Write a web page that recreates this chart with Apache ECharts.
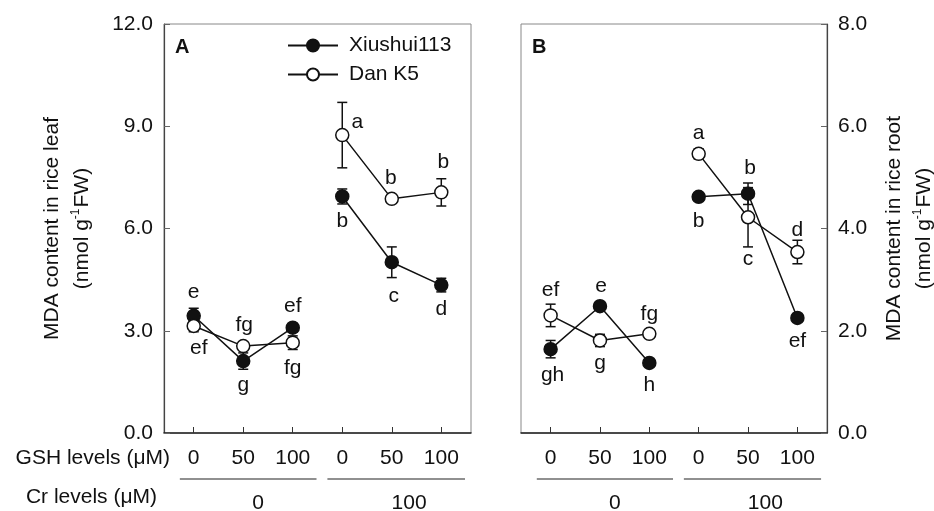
<!DOCTYPE html>
<html>
<head>
<meta charset="utf-8">
<script src="https://cdn.jsdelivr.net/npm/echarts@6/dist/echarts.min.js"></script>
<style>
    html, body { margin: 0; padding: 0; background: #fff; }
    #main { width: 934px; height: 511px; }
</style>
</head>
<body>
<div id="main"></div>
<script>
// 数据
var gshLevels = ["0", "50", "100", "0", "50", "100"];
var crLevels = ["0", "100"];
var xPos = [1, 2, 3, 4, 5, 6];

// 叶片 MDA (nmol g-1 FW)
var leafXiushui = [3.44, 2.11, 3.09, 6.94, 5.01, 4.34];
var leafXiushuiErr = [0.22, 0.24, 0.12, 0.22, 0.45, 0.2];
var leafDan = [3.14, 2.55, 2.65, 8.74, 6.87, 7.06];
var leafDanErr = [0.17, 0.05, 0.2, 0.96, 0.05, 0.4];
// 根 MDA
var rootXiushui = [1.64, 2.48, 1.37, 4.62, 4.68, 2.25];
var rootXiushuiErr = [0.17, 0.05, 0.05, 0.05, 0.21, 0.05];
var rootDan = [2.30, 1.81, 1.94, 5.46, 4.22, 3.54];
var rootDanErr = [0.22, 0.12, 0.05, 0.1, 0.58, 0.23];

// 显著性字母
var leafXiushuiSig = ["e", "g", "ef", "b", "c", "d"];
var leafDanSig = ["ef", "fg", "fg", "a", "b", "b"];
var rootXiushuiSig = ["gh", "e", "h", "b", "b", "ef"];
var rootDanSig = ["ef", "g", "fg", "a", "c", "d"];

(function() {
    var FONT = "Liberation Sans, Arial, sans-serif";
    var INK = "#111";

    // 字母相对于点的偏移 (px)
    var leafXiushuiOff = [[0, -24], [0, 24], [0, -21], [0, 25], [2, 34], [0, 24]];
    var leafDanOff = [[5, 22], [1, -21], [0, 26], [15, -13], [-1, -21], [2, -30]];
    var rootXiushuiOff = [[2, 26], [1, -20], [0, 22], [0, 24], [2, -26], [0, 23]];
    var rootDanOff = [[0, -25], [0, 23], [0, -20], [0, -21], [0, 42], [0, -22]];

    var myChart = echarts.init(document.getElementById("main"));

    // 折线：每个 Cr 水平一段，中间断开
    function lineSeries(name, vals, sig, off, idx, filled) {
        var out = [];
        [[0, 3], [3, 6]].forEach(function(r) {
            var data = [];
            for (var i = r[0]; i < r[1]; i++) {
                data.push({
                    value: [xPos[i], vals[i]],
                    label: {
                        show: true,
                        position: "inside",
                        offset: off[i],
                        formatter: sig[i],
                        fontSize: 21,
                        fontFamily: FONT,
                        color: INK
                    }
                });
            }
            out.push({
                name: name,
                type: "line",
                xAxisIndex: idx,
                yAxisIndex: idx,
                data: data,
                symbol: "circle",
                symbolSize: 13,
                z: 3,
                lineStyle: { color: INK, width: 1.5 },
                itemStyle: {
                    color: filled ? INK : "#fff",
                    borderColor: INK,
                    borderWidth: 1.5
                },
                emphasis: { disabled: true },
                animation: false
            });
        });
        return out;
    }

    // 误差棒
    function errSeries(vals, err, idx) {
        return {
            type: "custom",
            name: "err" + idx,
            xAxisIndex: idx,
            yAxisIndex: idx,
            z: 1,
            silent: true,
            animation: false,
            encode: { x: 0, y: [1, 2] },
            data: vals.map(function(v, i) {
                return [xPos[i], v - err[i], v + err[i]];
            }),
            renderItem: function(params, api) {
                var lo = api.coord([api.value(0), api.value(1)]);
                var hi = api.coord([api.value(0), api.value(2)]);
                var w = 5;
                var st = { stroke: INK, lineWidth: 1.5 };
                return {
                    type: "group",
                    children: [
                        { type: "line", shape: { x1: lo[0], y1: lo[1], x2: hi[0], y2: hi[1] }, style: st },
                        { type: "line", shape: { x1: lo[0] - w, y1: lo[1], x2: lo[0] + w, y2: lo[1] }, style: st },
                        { type: "line", shape: { x1: hi[0] - w, y1: hi[1], x2: hi[0] + w, y2: hi[1] }, style: st }
                    ]
                };
            }
        };
    }

    function xAxis(idx) {
        return {
            type: "value",
            gridIndex: idx,
            min: 0.4,
            max: 6.6,
            axisLine: { lineStyle: { color: "#222", width: 1.5 } },
            axisTick: {
                inside: true,
                length: 6,
                customValues: xPos,
                lineStyle: { color: "#333" }
            },
            axisLabel: {
                customValues: xPos,
                margin: 15,
                fontSize: 21,
                fontFamily: FONT,
                color: INK,
                formatter: function(v) {
                    return gshLevels[Math.round(v) - 1];
                }
            },
            splitLine: { show: false }
        };
    }

    var nameRich = {
        t: { fontSize: 21, fontFamily: FONT, color: INK, lineHeight: 30 },
        s: { fontSize: 12, fontFamily: FONT, color: INK, padding: [0, 1, 12, 0] }
    };

    function yAxis(idx, max, step, pos, nameTxt, gap) {
        return {
            type: "value",
            gridIndex: idx,
            position: pos,
            min: 0,
            max: max,
            interval: step,
            name: "{t|" + nameTxt + "}\n{t|(nmol g}{s|-1}{t|FW)}",
            nameLocation: "middle",
            nameRotate: 90,
            nameGap: gap,
            nameTextStyle: { rich: nameRich },
            axisLine: { show: true, lineStyle: { color: "#444", width: 1.2 } },
            axisTick: { inside: true, length: 6, lineStyle: { color: "#666" } },
            axisLabel: {
                margin: 11,
                fontSize: 21,
                fontFamily: FONT,
                color: INK,
                formatter: function(v) { return v.toFixed(1); }
            },
            splitLine: { show: false }
        };
    }

    var series = []
        .concat(lineSeries("Xiushui113", leafXiushui, leafXiushuiSig, leafXiushuiOff, 0, true))
        .concat(lineSeries("Dan K5", leafDan, leafDanSig, leafDanOff, 0, false))
        .concat(lineSeries("Xiushui113", rootXiushui, rootXiushuiSig, rootXiushuiOff, 1, true))
        .concat(lineSeries("Dan K5", rootDan, rootDanSig, rootDanOff, 1, false));
    series.push(errSeries(leafXiushui, leafXiushuiErr, 0));
    series.push(errSeries(leafDan, leafDanErr, 0));
    series.push(errSeries(rootXiushui, rootXiushuiErr, 1));
    series.push(errSeries(rootDan, rootDanErr, 1));

    var option = {
        animation: false,
        title: [
            { text: "A", left: 175, top: 37, padding: 0, textStyle: { fontSize: 20, fontWeight: "bold", fontFamily: FONT, color: INK } },
            { text: "B", left: 532, top: 37, padding: 0, textStyle: { fontSize: 20, fontWeight: "bold", fontFamily: FONT, color: INK } }
        ],
        legend: {
            data: ["Xiushui113", "Dan K5"],
            orient: "vertical",
            left: 287,
            top: 35,
            padding: 0,
            itemWidth: 50,
            itemHeight: 15,
            itemGap: 8,
            selectedMode: false,
            textStyle: { fontSize: 21, fontFamily: FONT, color: INK, padding: [0, 0, 0, 6] }
        },
        // outerBoundsMode none：不让 v6 自动缩小绘图区
        grid: [
            { left: 164, top: 24, width: 307, height: 409, outerBoundsMode: "none", show: true, borderColor: "#888", borderWidth: 1 },
            { left: 521, top: 24, width: 306, height: 409, outerBoundsMode: "none", show: true, borderColor: "#888", borderWidth: 1 }
        ],
        xAxis: [xAxis(0), xAxis(1)],
        yAxis: [
            yAxis(0, 12, 3, "left", "MDA content in rice leaf", 67),
            yAxis(1, 8, 2, "right", "MDA content in rice root", 52)
        ],
        series: series
    };

    myChart.setOption(option);

    // 下方分组标注：横线 + Cr 水平
    var groupSpans = [[0.72, 3.48], [3.7, 6.48]];
    var groupLabelAt = [2.3, 5.35];
    var elements = [
        { type: "text", right: 934 - 170, top: 448, style: { text: "GSH levels (μM)", fontSize: 21, fontFamily: FONT, fill: INK, textAlign: "right" } },
        { type: "text", right: 934 - 157, top: 487, style: { text: "Cr levels (μM)", fontSize: 21, fontFamily: FONT, fill: INK, textAlign: "right" } }
    ];
    [0, 1].forEach(function(p) {
        groupSpans.forEach(function(s, k) {
            var a = myChart.convertToPixel({ xAxisIndex: p }, s[0]);
            var b = myChart.convertToPixel({ xAxisIndex: p }, s[1]);
            var c = myChart.convertToPixel({ xAxisIndex: p }, groupLabelAt[k]);
            elements.push({
                type: "line",
                shape: { x1: a, y1: 479, x2: b, y2: 479 },
                style: { stroke: "#222", lineWidth: 1.2 }
            });
            elements.push({
                type: "text",
                x: c,
                y: 503,
                style: {
                    text: crLevels[k],
                    fontSize: 21,
                    fontFamily: FONT,
                    fill: INK,
                    align: "center",
                    verticalAlign: "middle"
                }
            });
        });
    });
    myChart.setOption({ graphic: { elements: elements } });

    window.addEventListener("resize", function() {
        myChart.resize();
    });
})();
</script>
</body>
</html>
